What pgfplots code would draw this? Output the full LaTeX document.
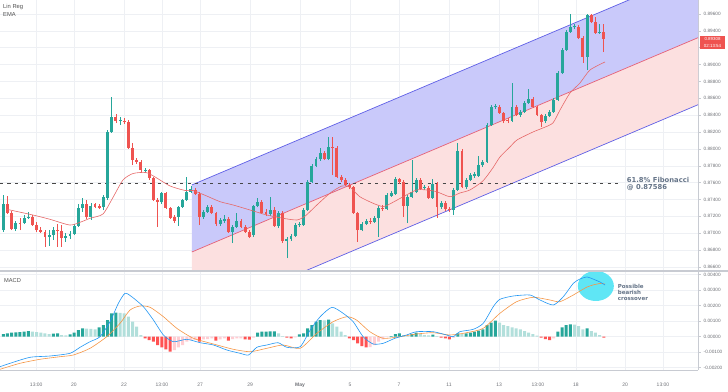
\documentclass[border=0pt]{standalone}
\usepackage{fontspec}
\setmainfont{Liberation Sans}
\newfontfamily\dejavu{DejaVu Sans}
\usepackage{pgfplots}
\usepackage{pgfplotstable}
\pgfplotsset{compat=1.18}
\definecolor{cgreen}{RGB}{38,166,154}
\definecolor{cred}{RGB}{239,83,80}
\definecolor{hdarkc}{RGB}{38,166,154}
\definecolor{hlightc}{RGB}{178,223,219}
\definecolor{hredc}{RGB}{255,82,82}
\definecolor{hpinkc}{RGB}{255,205,210}
\definecolor{macdblue}{RGB}{33,150,243}
\definecolor{sigorange}{RGB}{245,150,70}
\definecolor{chanblue}{RGB}{201,201,250}
\definecolor{chanpink}{RGB}{252,224,224}
\definecolor{chanline}{RGB}{95,95,230}
\definecolor{midline}{RGB}{228,96,120}
\definecolor{emac}{RGB}{230,105,105}
\definecolor{fibc}{RGB}{70,70,70}
\definecolor{gridc}{RGB}{238,240,244}
\definecolor{axisgray}{RGB}{200,203,210}
\definecolor{tickc}{RGB}{110,112,118}
\definecolor{labc}{RGB}{80,80,80}
\definecolor{annc}{RGB}{100,115,135}
\definecolor{cyanc}{RGB}{95,230,245}

\pgfplotstableread{
i l h bl bh
0 0.87014 0.87453 0.87038 0.87347
3 0.87026 0.87145 0.87050 0.87121
5 0.87109 0.87216 0.87121 0.87181
6 0.87169 0.87252 0.87181 0.87192
11 0.86848 0.87038 0.86955 0.86979
12 0.86920 0.87074 0.86979 0.87038
15 0.86896 0.87003 0.86943 0.86967
16 0.86931 0.87026 0.86967 0.86991
17 0.86979 0.87109 0.86991 0.87086
18 0.87074 0.87347 0.87086 0.87299
19 0.87252 0.87418 0.87299 0.87347
21 0.87157 0.87358 0.87192 0.87323
24 0.87275 0.87453 0.87311 0.87430
25 0.87394 0.88224 0.87418 0.88200
26 0.88189 0.88616 0.88200 0.88378
28 0.88283 0.88378 0.88331 0.88343
34 0.87714 0.87774 0.87738 0.87750
38 0.87347 0.87489 0.87370 0.87477
42 0.87086 0.87323 0.87192 0.87311
43 0.87299 0.87406 0.87311 0.87394
44 0.87382 0.87667 0.87394 0.87489
45 0.87477 0.87560 0.87489 0.87524
48 0.87169 0.87275 0.87192 0.87252
49 0.87240 0.87335 0.87252 0.87311
52 0.87086 0.87181 0.87109 0.87157
53 0.87121 0.87216 0.87145 0.87169
55 0.86884 0.87097 0.87014 0.87074
56 0.87062 0.87240 0.87074 0.87145
60 0.86955 0.87335 0.86979 0.87323
61 0.87311 0.87418 0.87323 0.87370
64 0.87204 0.87430 0.87228 0.87275
66 0.87062 0.87264 0.87086 0.87240
68 0.86706 0.86955 0.86908 0.86931
69 0.86908 0.86991 0.86931 0.86967
70 0.86955 0.87121 0.86967 0.87097
71 0.87074 0.87133 0.87097 0.87109
72 0.87086 0.87299 0.87097 0.87275
73 0.87264 0.87631 0.87275 0.87607
74 0.87596 0.87821 0.87607 0.87797
75 0.87785 0.87904 0.87797 0.87880
76 0.87857 0.88011 0.87880 0.87951
78 0.87868 0.88141 0.87880 0.88023
86 0.87026 0.87133 0.87038 0.87109
87 0.87097 0.87169 0.87109 0.87145
89 0.87121 0.87204 0.87133 0.87181
90 0.86955 0.87323 0.87181 0.87299
92 0.87275 0.87477 0.87287 0.87453
93 0.87430 0.87501 0.87441 0.87477
94 0.87453 0.87667 0.87465 0.87643
97 0.87121 0.87453 0.87323 0.87430
98 0.87418 0.87868 0.87430 0.87489
99 0.87477 0.87655 0.87489 0.87631
101 0.87513 0.87572 0.87536 0.87548
103 0.87406 0.87643 0.87418 0.87584
105 0.87287 0.87382 0.87311 0.87358
108 0.87216 0.87536 0.87275 0.87513
109 0.87501 0.88070 0.87513 0.87975
111 0.87524 0.87655 0.87548 0.87631
112 0.87619 0.87714 0.87631 0.87690
113 0.87655 0.87726 0.87679 0.87702
114 0.87667 0.87916 0.87679 0.87809
115 0.87785 0.87868 0.87809 0.87845
116 0.87833 0.88307 0.87845 0.88283
117 0.88272 0.88521 0.88283 0.88497
118 0.88473 0.88533 0.88497 0.88509
122 0.88319 0.88782 0.88331 0.88497
124 0.88378 0.88461 0.88402 0.88438
125 0.88426 0.88568 0.88438 0.88544
126 0.88533 0.88710 0.88544 0.88592
130 0.88307 0.88414 0.88331 0.88390
131 0.88378 0.88461 0.88390 0.88438
132 0.88426 0.88604 0.88438 0.88580
133 0.88568 0.88924 0.88580 0.88900
134 0.88888 0.89197 0.88900 0.89173
135 0.89161 0.89410 0.89173 0.89386
136 0.89375 0.89600 0.89386 0.89446
137 0.89422 0.89481 0.89446 0.89458
140 0.88936 0.89600 0.89090 0.89588
143 0.89363 0.89481 0.89375 0.89386
}\upcandles

\pgfplotstableread{
i l h bl bh
1 0.87228 0.87441 0.87240 0.87347
2 0.87038 0.87264 0.87050 0.87240
4 0.87038 0.87181 0.87109 0.87121
7 0.87086 0.87216 0.87097 0.87192
8 0.87014 0.87133 0.87038 0.87097
9 0.87003 0.87074 0.87014 0.87038
10 0.86837 0.87038 0.86955 0.87014
13 0.86837 0.87109 0.87026 0.87038
14 0.86837 0.87097 0.86943 0.87026
20 0.87169 0.87394 0.87192 0.87347
22 0.87299 0.87358 0.87311 0.87347
23 0.87287 0.87347 0.87299 0.87323
27 0.88307 0.88414 0.88331 0.88378
29 0.88295 0.88367 0.88319 0.88331
30 0.87999 0.88343 0.88011 0.88319
31 0.87809 0.88070 0.87868 0.88011
32 0.87821 0.87892 0.87845 0.87868
33 0.87726 0.87868 0.87750 0.87845
35 0.87631 0.87762 0.87655 0.87750
36 0.87382 0.87667 0.87394 0.87655
37 0.87074 0.87418 0.87370 0.87394
39 0.87287 0.87489 0.87299 0.87477
40 0.87169 0.87311 0.87181 0.87299
41 0.87121 0.87216 0.87145 0.87192
46 0.87453 0.87536 0.87465 0.87513
47 0.87097 0.87489 0.87192 0.87465
50 0.87228 0.87335 0.87240 0.87311
51 0.87086 0.87252 0.87109 0.87240
54 0.87003 0.87192 0.87014 0.87169
57 0.87062 0.87169 0.87074 0.87145
58 0.87003 0.87097 0.87014 0.87074
59 0.86943 0.87038 0.86955 0.87014
62 0.87228 0.87394 0.87240 0.87370
63 0.87204 0.87287 0.87228 0.87252
65 0.87074 0.87311 0.87086 0.87275
67 0.86884 0.87264 0.86908 0.87240
77 0.87868 0.87975 0.87880 0.87951
79 0.87690 0.88141 0.88011 0.88023
80 0.87655 0.88034 0.87667 0.88011
81 0.87607 0.87690 0.87631 0.87667
82 0.87560 0.87655 0.87572 0.87631
83 0.87524 0.87596 0.87548 0.87572
84 0.87228 0.87560 0.87240 0.87548
85 0.86896 0.87252 0.87038 0.87240
88 0.87109 0.87181 0.87133 0.87145
91 0.87264 0.87335 0.87287 0.87299
95 0.87584 0.87655 0.87607 0.87643
96 0.87192 0.87631 0.87323 0.87607
100 0.87513 0.87655 0.87524 0.87631
102 0.87406 0.87560 0.87418 0.87536
104 0.87181 0.87607 0.87311 0.87584
106 0.87264 0.87382 0.87287 0.87358
107 0.87252 0.87311 0.87275 0.87287
110 0.87536 0.87999 0.87548 0.87975
119 0.88414 0.88521 0.88426 0.88497
120 0.88307 0.88438 0.88331 0.88426
121 0.88307 0.88367 0.88331 0.88343
123 0.88390 0.88521 0.88402 0.88497
127 0.88485 0.88616 0.88497 0.88592
128 0.88390 0.88509 0.88402 0.88497
129 0.88260 0.88414 0.88319 0.88402
138 0.89303 0.89469 0.89315 0.89446
139 0.89019 0.89339 0.89090 0.89315
141 0.89493 0.89600 0.89505 0.89588
142 0.89363 0.89564 0.89375 0.89505
144 0.89149 0.89481 0.89308 0.89386
}\downcandles

\pgfplotstableread{
i v
0 0.000172
1 0.000215
2 0.000258
3 0.000280
4 0.000301
5 0.000323
6 0.000366
12 0.000194
13 0.000215
16 0.000151
17 0.000258
18 0.000430
19 0.000538
23 0.000602
24 0.000753
25 0.001075
26 0.001505
27 0.001548
61 0.000258
62 0.000323
63 0.000330
64 0.000340
65 0.000345
71 0.000150
72 0.000215
73 0.000538
74 0.000753
75 0.000968
76 0.001075
78 0.001100
93 0.000043
94 0.000172
95 0.000215
98 0.000172
99 0.000258
103 0.000129
109 0.000215
111 0.000215
112 0.000258
113 0.000323
114 0.000387
115 0.000473
116 0.000753
117 0.000903
118 0.001032
133 0.000323
134 0.000602
135 0.000753
136 0.000796
140 0.000538
}\tabHD

\pgfplotstableread{
i v
7 0.000323
8 0.000301
9 0.000258
10 0.000215
11 0.000172
14 0.000108
15 0.000086
20 0.000520
21 0.000500
22 0.000480
28 0.001530
29 0.001505
30 0.001290
31 0.000968
32 0.000645
33 0.000108
66 0.000215
67 0.000043
77 0.001060
79 0.000860
80 0.000645
81 0.000323
82 0.000108
96 0.000108
97 0.000043
100 0.000172
101 0.000108
102 0.000086
104 0.000043
110 0.000172
119 0.000903
120 0.000753
121 0.000688
122 0.000602
123 0.000538
124 0.000473
125 0.000366
126 0.000258
127 0.000172
128 0.000065
137 0.000780
138 0.000688
139 0.000473
141 0.000366
142 0.000258
143 0.000108
}\tabHL

\pgfplotstableread{
i v
34 -0.000108
35 -0.000215
36 -0.000323
37 -0.000538
38 -0.000688
39 -0.000817
40 -0.000968
47 -0.000323
51 -0.000258
54 -0.000258
58 -0.000172
59 -0.000190
68 -0.000065
69 -0.000108
83 -0.000108
84 -0.000215
85 -0.000430
86 -0.000602
87 -0.000688
105 -0.000065
106 -0.000108
107 -0.000172
129 -0.000065
130 -0.000151
131 -0.000215
144 -0.000065
}\tabHR

\pgfplotstableread{
i v
41 -0.000860
42 -0.000688
43 -0.000538
44 -0.000323
45 -0.000215
46 -0.000200
48 -0.000172
49 -0.000160
50 -0.000108
52 -0.000172
53 -0.000108
55 -0.000151
56 -0.000108
57 -0.000100
60 -0.000065
70 -0.000043
88 -0.000680
89 -0.000538
90 -0.000323
91 -0.000172
92 -0.000030
108 -0.000065
132 -0.000108
}\tabHP

\pgfplotsset{
  tvaxis/.style={
    scale only axis, width=698pt,
    xmin=-0.79, xmax=166.6,
    axis x line*=bottom, axis y line*=right,
    axis line style={-, draw=axisgray, line width=0.8pt},
    grid=major, grid style={draw=gridc, line width=0.5pt},
    xtick={7.9,16.95,28.95,38.05,47.2,59.2,71.15,83.15,94.9,106.9,118.9,128.2,137.3,149.1,158.2},
    xtick style={draw=none},
    ytick style={draw=axisgray, line width=0.5pt},
    major tick length=2.5pt, tick align=outside,
    yticklabel pos=right,
    scaled y ticks=false,
    /pgf/number format/assume math mode=true,
    yticklabel style={font=\fontsize{4.7}{5}\selectfont, text=tickc, inner sep=0pt, xshift=3pt,
      /pgf/number format/fixed, /pgf/number format/fixed zerofill, /pgf/number format/precision=5},
  },
  candlewick/.style={draw=none, no markers, forget plot,
    error bars/.cd, y dir=plus, y explicit, error mark=none,
    error bar style={draw=#1, line width=0.7pt}},
  candlebody/.style={draw=none, no markers, forget plot,
    error bars/.cd, y dir=plus, y explicit, error mark=none,
    error bar style={draw=#1, line width=2.9pt}},
}

\begin{document}
\begin{tikzpicture}
% ---------------- main price panel
\begin{axis}[tvaxis, at={(0pt,120pt)}, anchor=south west, height=271pt,
  ymin=0.86552, ymax=0.89766,
  ytick={0.866,0.868,0.870,0.872,0.874,0.876,0.878,0.880,0.882,0.884,0.886,0.888,0.890,0.894,0.896},
  extra y ticks={0.892}, extra y tick labels={},
  xticklabels={}]
% regression channel fills
\addplot[fill=chanblue, draw=none, forget plot] coordinates {(45.2,0.87572) (166.6,0.90113) (166.6,0.89319) (45.2,0.86777)} -- cycle;
\addplot[fill=chanpink, draw=none, forget plot] coordinates {(45.2,0.86777) (166.6,0.89319) (166.6,0.88524) (45.2,0.85983)} -- cycle;
\addplot[chanline, line width=0.7pt, forget plot] coordinates {(45.2,0.87572) (166.6,0.90113)};
\addplot[chanline, line width=0.7pt, forget plot] coordinates {(45.2,0.85983) (166.6,0.88524)};
\addplot[midline, line width=0.7pt, forget plot] coordinates {(45.2,0.86777) (166.6,0.89319)};
% fibonacci level
\addplot[fibc, line width=0.7pt, dash pattern=on 3.3pt off 4.2pt, forget plot] coordinates {(-0.79,0.87586) (148,0.87586)};
% candles
\addplot[candlewick=cgreen] table[x=i, y=l, y error plus expr=\thisrow{h}-\thisrow{l}] {\upcandles};
\addplot[candlebody=cgreen] table[x=i, y=bl, y error plus expr=\thisrow{bh}-\thisrow{bl}] {\upcandles};
\addplot[candlewick=cred] table[x=i, y=l, y error plus expr=\thisrow{h}-\thisrow{l}] {\downcandles};
\addplot[candlebody=cred] table[x=i, y=bl, y error plus expr=\thisrow{bh}-\thisrow{bl}] {\downcandles};
% EMA
\addplot[emac, line width=0.6pt, smooth, tension=0.4, forget plot] coordinates {
(0.82,0.87284) (7.12,0.87216) (11.2,0.87165) (16.0,0.87097) (18.8,0.87137) (20.8,0.87177)
(23.9,0.87228) (26.3,0.87424) (28.7,0.87631) (31.1,0.87708) (34.2,0.87720) (36.4,0.87667)
(40.0,0.87560) (43.6,0.87507) (45.5,0.87507) (48.8,0.87441) (52.0,0.87374) (55.1,0.87335)
(59.2,0.87275) (63.2,0.87216) (67.1,0.87177) (70.4,0.87157) (72.4,0.87204) (75.2,0.87335)
(78.4,0.87477) (81.2,0.87560) (83.1,0.87548) (85.5,0.87433) (88.7,0.87355) (91.1,0.87315)
(92.7,0.87347) (95.9,0.87433) (99.1,0.87513) (101.5,0.87513) (103.9,0.87493) (107.1,0.87433)
(109.5,0.87477) (111.9,0.87513) (115.0,0.87619) (117.4,0.87774) (119.1,0.87904) (121.5,0.88023)
(123.2,0.88106) (127.0,0.88200) (129.4,0.88248) (131.8,0.88307) (133.5,0.88461) (135.9,0.88663)
(138.3,0.88782) (140.7,0.88936) (144.3,0.89031)};
\end{axis}

% ---------------- MACD panel
\begin{axis}[tvaxis, at={(0pt,21pt)}, anchor=south west, height=98pt,
  ymin=-0.002148, ymax=0.004174,
  ytick={-0.002,-0.001,0,0.001,0.002,0.003,0.004},
  xticklabels={13:00,20,22,13:00,27,29,\textbf{May},5,7,11,13,13:00,18,20,13:00},
  xticklabel style={font=\fontsize{5}{5}\selectfont, text=tickc, anchor=north, inner sep=0pt, yshift=-10.5pt}]
\addplot[ybar, bar width=3pt, bar shift=0pt, fill=hdarkc, draw=none, forget plot] table[x=i, y=v] {\tabHD};
\addplot[ybar, bar width=3pt, bar shift=0pt, fill=hlightc, draw=none, forget plot] table[x=i, y=v] {\tabHL};
\addplot[ybar, bar width=3pt, bar shift=0pt, fill=hredc, draw=none, forget plot] table[x=i, y=v] {\tabHR};
\addplot[ybar, bar width=3pt, bar shift=0pt, fill=hpinkc, draw=none, forget plot] table[x=i, y=v] {\tabHP};
\fill[cyanc] (axis cs:142.1,0.003271) ellipse [x radius=18pt, y radius=15pt];
\addplot[sigorange, line width=0.6pt, smooth, tension=0.4, forget plot] coordinates {
(-0.79,-0.002103) (4.0,-0.001716) (8.8,-0.001458) (13.6,-0.001290) (16.8,-0.001181) (20.8,-0.000748)
(24.8,0) (28.0,0.000865) (30.4,0.001723) (32.8,0.001981) (35.2,0.001897) (38.4,0.001290)
(41.6,0.000542) (45.6,-0.000103) (50.4,-0.000471) (55.2,-0.000813) (59.2,-0.000968) (63.2,-0.000748)
(67.1,-0.000535) (71.2,-0.000748) (75.2,0.000219) (79.1,0.000968) (82.4,0.001290) (84.7,0.001077)
(87.9,0.000323) (91.1,-0.000103) (95.1,0) (99.1,0.000174) (103.1,0.000258) (107.1,0.000110)
(111.1,0.000258) (115.1,0.000542) (119.1,0.001510) (123.1,0.002258) (127.1,0.002542) (131.1,0.002368)
(133.5,0.002258) (136.7,0.002690) (138.3,0.002948) (140.0,0.003206) (141.4,0.003335) (143.1,0.003432)
(144.3,0.003400)};
\addplot[macdblue, line width=0.6pt, smooth, tension=0.4, forget plot] coordinates {
(-0.79,-0.001935) (1.61,-0.001716) (6.40,-0.001329) (11.2,-0.001245) (16.0,-0.001071) (18.4,-0.000684)
(20.8,-0.000323) (23.2,0) (25.6,0.000968) (27.6,0.002155) (29.2,0.002800) (30.8,0.002581)
(33.6,0.001935) (36.0,0.001077) (38.4,0.000110) (40.8,-0.000323) (44.0,-0.000168) (47.2,-0.000387)
(50.4,-0.000535) (53.6,-0.000858) (56.8,-0.001071) (58.8,-0.001181) (60.8,-0.000684) (63.2,-0.000535)
(65.9,-0.000387) (68.0,-0.000684) (71.2,-0.000645) (73.6,0.000432) (76.0,0.001290) (78.8,0.001897)
(81.5,0.001510) (83.9,0.000968) (86.3,0) (88.7,-0.000471) (91.1,-0.000426) (93.9,-0.000103)
(96.7,0.000110) (99.1,0.000323) (103.1,0.000323) (106.3,0.000110) (107.9,0) (109.5,0.000323)
(112.7,0.000477) (115.1,0.000865) (117.5,0.001935) (119.1,0.002413) (122.3,0.002626) (126.3,0.002690)
(128.7,0.002368) (131.9,0.002045) (134.3,0.002581) (136.7,0.003445) (138.3,0.003723) (140.0,0.003852)
(141.4,0.003723) (143.1,0.003529) (144.3,0.003335)};
\end{axis}

% panel separator
\draw[axisgray, line width=1.6pt] (0pt,120pt) -- (728pt,120pt);

% annotations
\node[anchor=west, inner sep=0pt, text=labc, font=\fontsize{5.8}{6}\selectfont] at (3pt,383.7pt) {Lin Reg};
\node[anchor=west, inner sep=0pt, text=labc, font=\fontsize{5.8}{6}\selectfont] at (3pt,376pt) {EMA};
\node[anchor=west, inner sep=0pt, text=labc, font=\fontsize{5.7}{6}\selectfont] at (4pt,110.3pt) {MACD};
\node[anchor=west, inner sep=0pt, align=left, text=annc, font=\dejavu\bfseries\fontsize{6.8}{7}\selectfont] at (626.7pt,206.8pt) {61.8\% Fibonacci\\@ 0.87586};
\node[anchor=west, inner sep=0pt, align=left, text=annc, font=\dejavu\bfseries\fontsize{5.5}{6}\selectfont] at (617.7pt,99pt) {Possible\\bearish\\crossover};
% last price tag
\fill[cred] (700pt,355pt) rectangle (725pt,342pt);
\node[inner sep=0pt, text=white, font=\fontsize{4.4}{5}\selectfont] at (712.5pt,351.8pt) {0.89308};
\node[inner sep=0pt, text=white, font=\fontsize{4.4}{5}\selectfont] at (712.5pt,345.2pt) {02:13:54};

\pgfresetboundingbox
\path (0pt,0pt) rectangle (728pt,391pt);
\end{tikzpicture}
\end{document}
